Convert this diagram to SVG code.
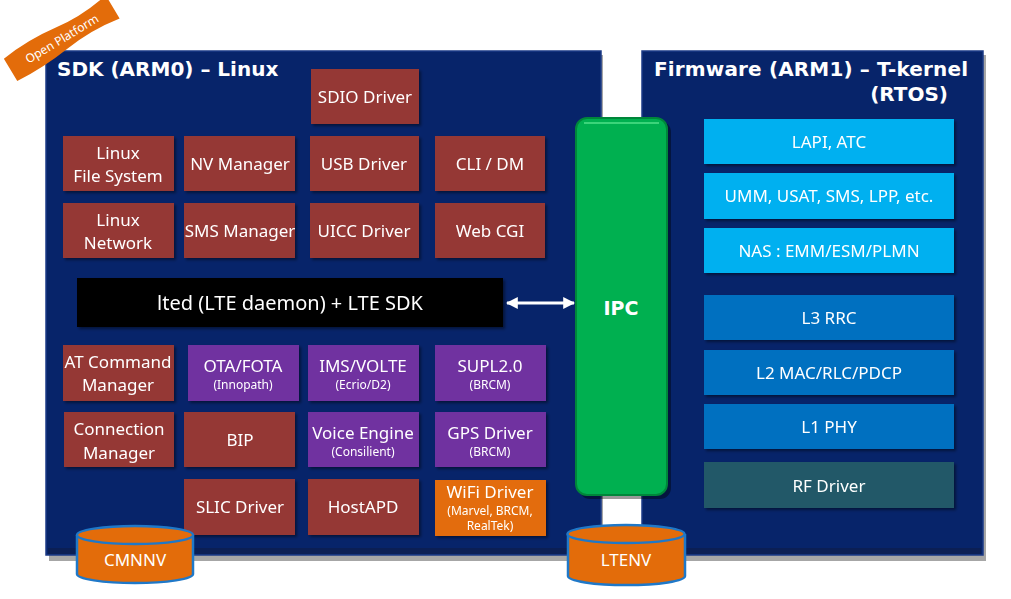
<svg xmlns="http://www.w3.org/2000/svg" width="1011" height="599" viewBox="0 0 1011 599">
<defs>
<style>
.t{font-family:"Noto Sans","DejaVu Sans",sans-serif;fill:#fff;text-anchor:middle}
.b{font-size:17px}
.s{font-size:12px}
.h{font-family:"DejaVu Sans",Verdana,sans-serif;font-weight:bold;fill:#fff;font-size:20px}
.br{fill:#953735}
.pu{fill:#7030a0}
.or{fill:#e36c0a}
.lb{fill:#00b0f0}
.db{fill:#0070c0}
.tl{fill:#215968}
.panel{fill:#07246a;stroke:#1b3a86;stroke-width:1.5}
.cyl{fill:#e36c0a;stroke:#1f78c8;stroke-width:2.5}
</style>
<filter id="sh" x="-10%" y="-10%" width="130%" height="130%">
<feDropShadow dx="2" dy="2" stdDeviation="1.5" flood-color="#000" flood-opacity="0.45"/>
</filter>
<marker id="ah" viewBox="0 0 10 10" refX="9" refY="5" markerWidth="4" markerHeight="4" orient="auto-start-reverse">
<path d="M0,0 L10,5 L0,10 z" fill="#fff"/>
</marker>
</defs>
<rect width="1011" height="599" fill="#fff"/>

<g id="panel-sdk">
<rect x="49" y="55" width="554" height="506" fill="#000" opacity="0.35"/>
<rect x="46" y="51" width="555" height="504" class="panel"/>
<rect x="48" y="548" width="551" height="6" fill="#0b1f55"/>
<text x="57" y="76" class="h">SDK (ARM0) – Linux</text>
</g>
<g id="panel-fw">
<rect x="645" y="55" width="341" height="506" fill="#000" opacity="0.35"/>
<rect x="642" y="51" width="341" height="504" class="panel"/>
<rect x="644" y="548" width="337" height="6" fill="#0b1f55"/>
<text x="654" y="76" class="h" textLength="314">Firmware (ARM1) – T-kernel</text>
<text x="948" y="101" class="h" style="text-anchor:end">(RTOS)</text>
</g>

<g id="open-platform">
<g transform="translate(62,39) rotate(-31)">
<path d="M-60,-13 Q-30,-17 0,-13 Q30,-9 60,-15 L60,12 Q30,7 0,11 Q-30,15 -60,13 Z" fill="#e36c0a"/>
<text x="0" y="4" class="t" style="font-size:12px">Open Platform</text>
</g>
</g>

<g filter="url(#sh)">
<g id="sdio"><rect x="311" y="69" width="108" height="55" class="br"/><text x="365" y="103" class="t b">SDIO Driver</text></g>

<g id="linux-fs"><rect x="63" y="136" width="111" height="55" class="br"/><text x="118" y="159" class="t b">Linux</text><text x="118" y="182" class="t b">File System</text></g>
<g id="nv-manager"><rect x="184" y="136" width="111" height="55" class="br"/><text x="240" y="170" class="t b">NV Manager</text></g>
<g id="usb-driver"><rect x="310" y="136" width="109" height="55" class="br"/><text x="364" y="170" class="t b">USB Driver</text></g>
<g id="cli-dm"><rect x="435" y="136" width="110" height="55" class="br"/><text x="490" y="170" class="t b">CLI / DM</text></g>

<g id="linux-net"><rect x="63" y="203" width="111" height="55" class="br"/><text x="118" y="226" class="t b">Linux</text><text x="118" y="249" class="t b">Network</text></g>
<g id="sms-manager"><rect x="184" y="203" width="111" height="55" class="br"/><text x="240" y="237" class="t b">SMS Manager</text></g>
<g id="uicc-driver"><rect x="310" y="203" width="109" height="55" class="br"/><text x="364" y="237" class="t b">UICC Driver</text></g>
<g id="web-cgi"><rect x="435" y="203" width="110" height="55" class="br"/><text x="490" y="237" class="t b">Web CGI</text></g>

<g id="lted"><rect x="77" y="278" width="426" height="49" fill="#000"/><text x="290" y="310" class="t" style="font-size:20px">lted (LTE daemon) + LTE SDK</text></g>

<g id="at-cmd"><rect x="63" y="345" width="111" height="56" class="br"/><text x="118" y="368" class="t b">AT Command</text><text x="118" y="391" class="t b">Manager</text></g>
<g id="ota"><rect x="188" y="345" width="111" height="56" class="pu"/><text x="243" y="372" class="t b">OTA/FOTA</text><text x="243" y="389" class="t s">(Innopath)</text></g>
<g id="ims"><rect x="308" y="345" width="111" height="56" class="pu"/><text x="363" y="372" class="t b">IMS/VOLTE</text><text x="363" y="389" class="t s">(Ecrio/D2)</text></g>
<g id="supl"><rect x="435" y="345" width="111" height="56" class="pu"/><text x="490" y="372" class="t b">SUPL2.0</text><text x="490" y="389" class="t s">(BRCM)</text></g>

<g id="conn-mgr"><rect x="64" y="412" width="110" height="55" class="br"/><text x="119" y="435" class="t b">Connection</text><text x="119" y="459" class="t b">Manager</text></g>
<g id="bip"><rect x="184" y="412" width="111" height="55" class="br"/><text x="240" y="446" class="t b">BIP</text></g>
<g id="voice"><rect x="308" y="412" width="111" height="55" class="pu"/><text x="363" y="439" class="t b">Voice Engine</text><text x="363" y="456" class="t s">(Consilient)</text></g>
<g id="gps"><rect x="435" y="412" width="111" height="55" class="pu"/><text x="490" y="439" class="t b">GPS Driver</text><text x="490" y="456" class="t s">(BRCM)</text></g>

<g id="slic"><rect x="184" y="479" width="111" height="56" class="br"/><text x="240" y="513" class="t b">SLIC Driver</text></g>
<g id="hostapd"><rect x="308" y="479" width="111" height="56" class="br"/><text x="363" y="513" class="t b">HostAPD</text></g>
<g id="wifi"><rect x="435" y="480" width="111" height="56" class="or"/><text x="490" y="498" class="t b">WiFi Driver</text><text x="490" y="515" class="t s">(Marvel, BRCM,</text><text x="490" y="530" class="t s">RealTek)</text></g>

<g id="lapi"><rect x="704" y="119" width="250" height="45" class="lb"/><text x="829" y="148" class="t b">LAPI, ATC</text></g>
<g id="umm"><rect x="704" y="173" width="250" height="46" class="lb"/><text x="829" y="202" class="t b">UMM, USAT, SMS, LPP, etc.</text></g>
<g id="nas"><rect x="704" y="228" width="250" height="45" class="lb"/><text x="829" y="257" class="t b">NAS : EMM/ESM/PLMN</text></g>
<g id="l3"><rect x="704" y="295" width="250" height="45" class="db"/><text x="829" y="324" class="t b">L3 RRC</text></g>
<g id="l2"><rect x="704" y="350" width="250" height="45" class="db"/><text x="829" y="379" class="t b">L2 MAC/RLC/PDCP</text></g>
<g id="l1"><rect x="704" y="404" width="250" height="45" class="db"/><text x="829" y="433" class="t b">L1 PHY</text></g>
<g id="rf"><rect x="704" y="462" width="250" height="46" class="tl"/><text x="829" y="492" class="t b">RF Driver</text></g>
</g>

<g id="ipc">
<rect x="579" y="121" width="92" height="378" rx="11" fill="#000" opacity="0.4"/>
<rect x="576" y="118" width="91" height="377" rx="11" fill="#00b050" stroke="#00863a" stroke-width="2"/>
<path d="M584,123 H659" stroke="#3bd47a" stroke-width="2" fill="none"/>
<text x="621" y="315" class="t" style="font-family:'DejaVu Sans',sans-serif;font-weight:bold;font-size:19px">IPC</text>
</g>

<g id="connectors">
<line x1="507" y1="303" x2="574" y2="303" stroke="#fff" stroke-width="3" marker-start="url(#ah)" marker-end="url(#ah)"/>
</g>

<g id="cmnnv">
<path d="M77,535 V574 A58,9 0 0 0 193,574 V535" class="cyl"/>
<ellipse cx="135" cy="535" rx="58" ry="9" class="cyl"/>
<text x="135" y="566" class="t b">CMNNV</text>
</g>
<g id="ltenv">
<path d="M568,534 V576 A58,9 0 0 0 685,576 V534" class="cyl"/>
<ellipse cx="626" cy="534" rx="58.5" ry="9" class="cyl"/>
<text x="626" y="566" class="t b">LTENV</text>
</g>
</svg>
